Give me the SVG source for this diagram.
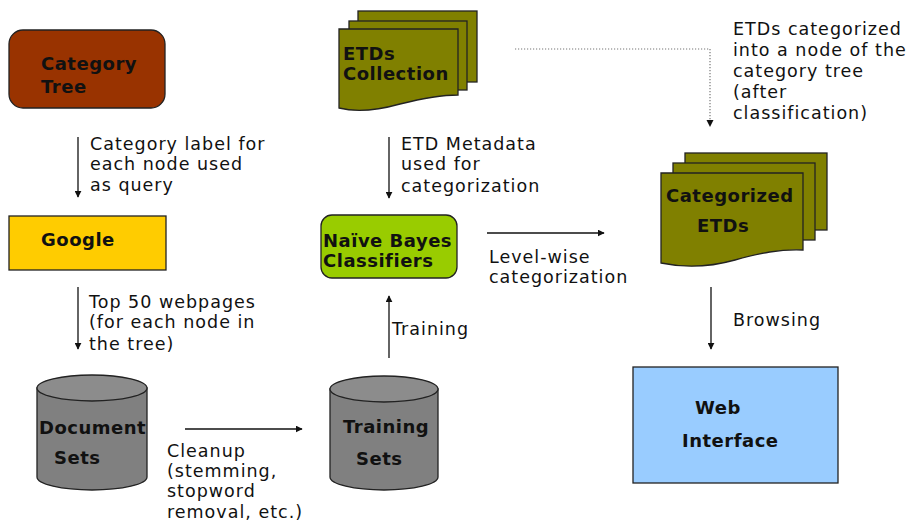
<svg xmlns="http://www.w3.org/2000/svg" width="910" height="528" viewBox="0 0 910 528">
<style>
.node{stroke:#222;stroke-width:1.3}
.bt{font-family:"DejaVu Sans",Verdana,sans-serif;font-weight:bold;font-size:18px;fill:#111;letter-spacing:0.5px}
.lt{font-family:"DejaVu Sans",Verdana,sans-serif;font-size:17.5px;fill:#111;letter-spacing:1px}
.conn{stroke:#111;stroke-width:1.3;fill:none}
.dot{stroke:#777;stroke-width:1.2;fill:none;stroke-dasharray:1.2,1.8}
</style>
<defs>
<marker id="ah" viewBox="0 0 10 10" refX="9" refY="5" markerWidth="7" markerHeight="7" markerUnits="userSpaceOnUse" orient="auto">
<path d="M0,0 L10,5 L0,10 Z" fill="#111"/>
</marker>
</defs>
<rect width="910" height="528" fill="#fff"/>

<g id="category-tree">
<rect class="node" x="9" y="30" width="156" height="78" rx="14" fill="#993300"/>
<text class="bt" x="41" y="70">Category</text>
<text class="bt" x="41" y="93">Tree</text>
</g>

<g id="google">
<rect class="node" x="9" y="216" width="157" height="54" fill="#FFCC00"/>
<text class="bt" x="41" y="246">Google</text>
</g>

<g id="document-sets">
<path class="node" d="M37,388 V477 A55,13 0 0 0 147,477 V388 Z" fill="#808080"/>
<ellipse class="node" cx="92" cy="388" rx="55" ry="13" fill="#8c8c8c"/>
<text class="bt" x="39" y="434">Document</text>
<text class="bt" x="54" y="464">Sets</text>
</g>

<g id="training-sets">
<path class="node" d="M330,389 V477 A54,13 0 0 0 438,477 V389 Z" fill="#808080"/>
<ellipse class="node" cx="384" cy="389" rx="54" ry="13" fill="#8c8c8c"/>
<text class="bt" x="343" y="433">Training</text>
<text class="bt" x="356" y="465">Sets</text>
</g>

<g id="naive-bayes">
<rect class="node" x="321" y="215" width="136" height="63" rx="11" fill="#99CC00"/>
<text class="bt" x="323" y="247">Naïve Bayes</text>
<text class="bt" x="323" y="267">Classifiers</text>
</g>

<g id="etds-collection">
<rect class="node" x="358" y="11" width="119" height="71" fill="#808000"/>
<rect class="node" x="349" y="21" width="118" height="69" fill="#808000"/>
<path class="node" d="M339,29 H458 V95 C440,95 420,99 400,104 C375,111 355,112 339,108 Z" fill="#808000"/>
<text class="bt" x="343" y="60">ETDs</text>
<text class="bt" x="343" y="80">Collection</text>
</g>

<g id="categorized-etds">
<rect class="node" x="685" y="153" width="142" height="77" fill="#808000"/>
<rect class="node" x="673" y="163" width="142" height="77" fill="#808000"/>
<path class="node" d="M661,173 H803 V250 C780,249 760,253 735,260 C710,267 685,268 661,263 Z" fill="#808000"/>
<text class="bt" x="666" y="202">Categorized</text>
<text class="bt" x="697" y="232">ETDs</text>
</g>

<g id="web-interface">
<rect class="node" x="633" y="367" width="205" height="116" fill="#99CCFF"/>
<text class="bt" x="695" y="414">Web</text>
<text class="bt" x="682" y="447">Interface</text>
</g>

<g id="connectors">
<line class="conn" x1="78" y1="137" x2="78" y2="197" marker-end="url(#ah)"/>
<line class="conn" x1="78" y1="287" x2="78" y2="349" marker-end="url(#ah)"/>
<line class="conn" x1="185" y1="429" x2="302" y2="429" marker-end="url(#ah)"/>
<line class="conn" x1="389" y1="358" x2="389" y2="296" marker-end="url(#ah)"/>
<line class="conn" x1="389" y1="137" x2="389" y2="198" marker-end="url(#ah)"/>
<line class="conn" x1="487" y1="233" x2="604" y2="233" marker-end="url(#ah)"/>
<line class="conn" x1="711" y1="287" x2="711" y2="349" marker-end="url(#ah)"/>
<path class="dot" d="M515,49 H710 V122"/>
<path d="M706.5,120 L713.5,120 L710,127 Z" fill="#111"/>
</g>

<g id="labels">
<text class="lt"><tspan x="90" y="150">Category label for</tspan><tspan x="90" y="170">each node used</tspan><tspan x="90" y="191">as query</tspan></text>
<text class="lt"><tspan x="89" y="308">Top 50 webpages</tspan><tspan x="89" y="328">(for each node in</tspan><tspan x="89" y="350">the tree)</tspan></text>
<text class="lt"><tspan x="167" y="457">Cleanup</tspan><tspan x="167" y="477">(stemming,</tspan><tspan x="167" y="497">stopword</tspan><tspan x="167" y="518">removal, etc.)</tspan></text>
<text class="lt" x="392" y="335">Training</text>
<text class="lt"><tspan x="401" y="150">ETD Metadata</tspan><tspan x="401" y="170">used for</tspan><tspan x="401" y="192">categorization</tspan></text>
<text class="lt"><tspan x="489" y="263">Level-wise</tspan><tspan x="489" y="283">categorization</tspan></text>
<text class="lt" x="733" y="326">Browsing</text>
<text class="lt"><tspan x="733" y="35">ETDs categorized</tspan><tspan x="733" y="56">into a node of the</tspan><tspan x="733" y="77">category tree</tspan><tspan x="733" y="98">(after</tspan><tspan x="733" y="119">classification)</tspan></text>
</g>
</svg>
